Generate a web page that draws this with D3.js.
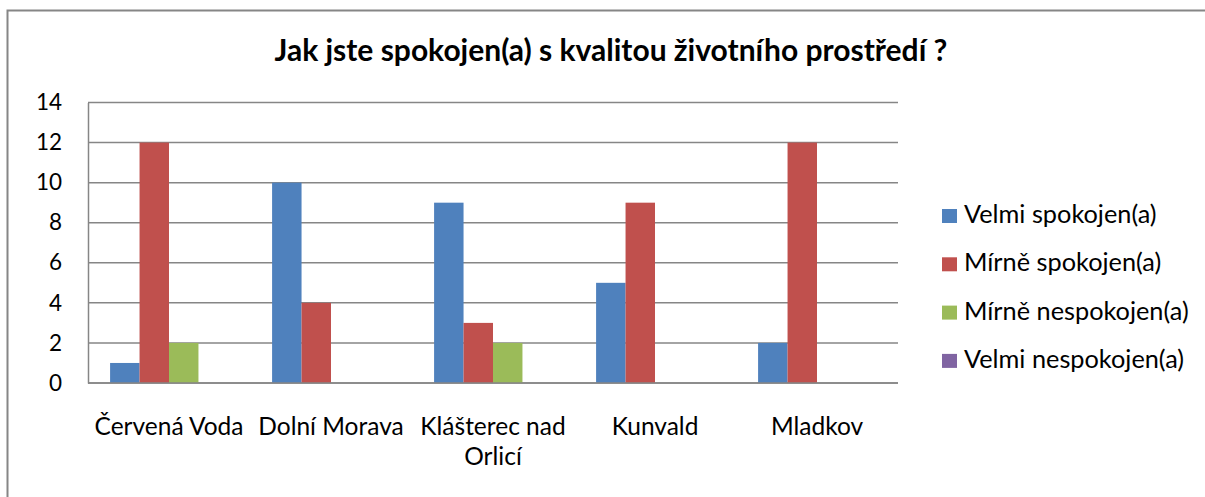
<!DOCTYPE html>
<html>
<head>
<meta charset="utf-8">
<script src="https://cdn.jsdelivr.net/npm/d3@7"></script>
<style>
  body { margin: 0; background: #fff; }
  text { font-family: Lato, "Open Sans", sans-serif; fill: #000; }
</style>
</head>
<body>
<div class="chart"></div>
<script>
// data
var categories = ["Červená Voda", "Dolní Morava", "Klášterec nad Orlicí", "Kunvald", "Mladkov"];
var seriesNames = ["Velmi spokojen(a)", "Mírně spokojen(a)", "Mírně nespokojen(a)", "Velmi nespokojen(a)"];
var velmiSpokojen = [1, 10, 9, 5, 2];
var mirneSpokojen = [12, 4, 3, 9, 12];
var mirneNespokojen = [2, 0, 2, 0, 0];
var velmiNespokojen = [0, 0, 0, 0, 0];
var yTicks = [0, 2, 4, 6, 8, 10, 12, 14];
var colors = ["#4F81BD", "#C0504D", "#9BBB59", "#8064A2"];

var series = [velmiSpokojen, mirneSpokojen, mirneNespokojen, velmiNespokojen];

var W = 1205, H = 497;
var margin = {top: 102.5, left: 88, right: 307, bottom: 114};
var width = W - margin.left - margin.right,
    height = H - margin.top - margin.bottom;

var svg = d3.select(".chart")
  .append("svg")
    .attr("width", W)
    .attr("height", H);

// outer frame (cut off by the picture at right and bottom)
svg.append("rect")
  .attr("x", 7.5).attr("y", 10.5)
  .attr("width", W + 20).attr("height", H + 20)
  .attr("fill", "none")
  .attr("stroke", "#868686")
  .attr("stroke-width", 2);

svg.append("text")
  .attr("x", 611)
  .attr("y", 61)
  .attr("text-anchor", "middle")
  .attr("font-size", "30px")
  .attr("font-weight", "bold")
  .text("Jak jste spokojen(a) s kvalitou životního prostředí ?");

var g = svg.append("g")
  .attr("transform", "translate(" + margin.left + "," + margin.top + ")");

var x = d3.scaleBand()
  .domain(categories)
  .range([0, width]);

// Excel style: gap width 150% of a bar
var barW = x.bandwidth() / (series.length + 1.5);
var x1 = d3.scaleBand()
  .domain(d3.range(series.length))
  .range([0.75 * barW, x.bandwidth() - 0.75 * barW]);

var y = d3.scaleLinear()
  .domain([0, 14])
  .range([height, 0]);

// gridlines
g.selectAll(".grid")
  .data(yTicks)
  .enter()
  .append("line")
    .attr("x1", 0)
    .attr("x2", width)
    .attr("y1", function(d) { return y(d); })
    .attr("y2", function(d) { return y(d); })
    .attr("stroke", "#868686")
    .attr("stroke-width", 1.5);

// y axis
var yAxis = g.append("g")
  .call(d3.axisLeft(y).tickValues(yTicks).tickSize(0).tickPadding(26));
yAxis.select(".domain").attr("stroke", "#868686").attr("stroke-width", 1.5);
yAxis.selectAll("text")
  .attr("font-size", "22.5px")
  .attr("font-family", "Lato");

// bars
series.forEach(function(vals, si) {
  g.selectAll(".bar" + si)
    .data(vals)
    .enter()
    .append("rect")
      .attr("class", "bar" + si)
      .attr("x", function(d, i) { return x(categories[i]) + x1(si); })
      .attr("y", function(d) { return y(d); })
      .attr("width", x1.bandwidth())
      .attr("height", function(d) { return height - y(d); })
      .attr("fill", colors[si]);
});

// x axis baseline
g.append("line")
  .attr("x1", 0).attr("x2", width)
  .attr("y1", height).attr("y2", height)
  .attr("stroke", "#868686")
  .attr("stroke-width", 1.5);

// category labels (wrapped like Excel)
var labelLines = {
  "Klášterec nad Orlicí": ["Klášterec nad", "Orlicí"]
};
var catLabels = g.selectAll(".cat")
  .data(categories)
  .enter()
  .append("text")
    .attr("class", "cat")
    .attr("text-anchor", "middle")
    .attr("font-size", "24.5px")
    .attr("transform", function(d) { return "translate(" + (x(d) + x.bandwidth() / 2) + "," + (height + 52) + ")"; });
catLabels.each(function(d) {
  var lines = labelLines[d] || [d];
  var t = d3.select(this);
  lines.forEach(function(l, i) {
    t.append("tspan").attr("x", 0).attr("dy", i == 0 ? 0 : 30).text(l);
  });
});

// legend
var legend = svg.selectAll(".legend")
  .data(seriesNames)
  .enter()
  .append("g")
    .attr("transform", function(d, i) { return "translate(942," + (223 + i * 48.3) + ")"; });
legend.append("rect")
  .attr("x", 0).attr("y", -14)
  .attr("width", 15).attr("height", 14)
  .attr("fill", function(d, i) { return colors[i]; });
legend.append("text")
  .attr("x", 22)
  .attr("y", 0)
  .attr("font-size", "25.3px")
  .text(function(d) { return d; });
</script>
</body>
</html>
